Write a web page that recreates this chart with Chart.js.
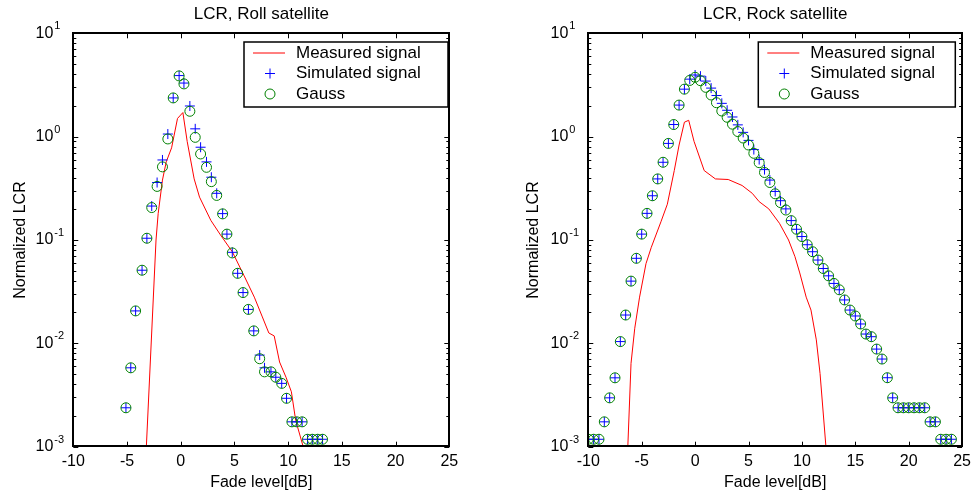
<!DOCTYPE html>
<html>
<head>
<meta charset="utf-8">
<script src="https://cdn.jsdelivr.net/npm/chart.js@4.4.0/dist/chart.umd.min.js"></script>
<style>
  html, body { margin: 0; padding: 0; background: #fff; }
  #wrap { position: relative; width: 976px; height: 494px; }
  .panel { position: absolute; top: 0; }
</style>
</head>
<body>
<div id="wrap">
  <canvas id="rollChart" class="panel" style="left:0" width="488" height="494"></canvas>
  <canvas id="rockChart" class="panel" style="left:488px" width="488" height="494"></canvas>
</div>
<script>
const fontFamily = "'Liberation Sans', Arial, Helvetica, sans-serif";
const legendLabels = ["Measured signal", "Simulated signal", "Gauss"];

// Roll satellite
const rollFadeX = [-5.1, -4.65, -4.2, -3.6, -3.15, -2.7, -2.2, -1.7, -1.2, -0.7,
  -0.15, 0.3, 0.85, 1.35, 1.85, 2.4, 2.85, 3.35, 3.9, 4.3,
  4.8, 5.3, 5.8, 6.3, 6.8, 7.35, 7.8, 8.4, 8.85, 9.4,
  9.85, 10.35, 10.8, 11.3, 11.8, 12.25, 12.75, 13.2];
const rollSimulated = [0.00238, 0.0058, 0.0206, 0.051, 0.104, 0.213, 0.36, 0.595, 1.06, 2.37,
  3.9, 3.3, 1.98, 1.19, 0.79, 0.57, 0.405, 0.283, 0.18, 0.114,
  0.076, 0.0476, 0.031, 0.0213, 0.0132, 0.0077, 0.0058, 0.0053, 0.0047, 0.0041,
  0.00294, 0.00174, 0.00174, 0.00174, 0.00118, 0.00118, 0.00118, 0.00118];
const rollGauss = [0.00238, 0.0058, 0.0206, 0.051, 0.104, 0.206, 0.33, 0.51, 0.95, 2.37,
  3.87, 3.24, 1.76, 0.985, 0.68, 0.505, 0.367, 0.27, 0.179, 0.114,
  0.075, 0.0476, 0.031, 0.0213, 0.0132, 0.0071, 0.0053, 0.0053, 0.0047, 0.0041,
  0.00294, 0.00174, 0.00174, 0.00174, 0.00118, 0.00118, 0.00118, 0.00118];
const rollMeasuredX = [-3.2, -2.3, -2.1, -1.7, -1.35, -0.85, -0.3, 0.2, 0.6, 1.25, 1.75, 2.8,
  3.7, 4.8, 5.9, 6.85, 7.6, 8.2, 8.7, 9.2, 9.8, 10.3, 10.7, 11.4];
const rollMeasured = [0.001, 0.1, 0.18, 0.38, 0.57, 0.78, 1.5, 1.71, 0.9, 0.39, 0.26, 0.155,
  0.112, 0.077, 0.045, 0.028, 0.018, 0.0126, 0.0118, 0.0066, 0.0047, 0.0034, 0.0018, 0.001];

// Rock satellite
const rockFadeX = [-10, -9.5, -9, -8.5, -8, -7.5, -7, -6.5, -6, -5.5,
  -5, -4.5, -4, -3.5, -3, -2.5, -2, -1.5, -1, -0.5,
  0, 0.5, 1, 1.5, 2, 2.5, 3, 3.5, 4, 4.5,
  5, 5.5, 6, 6.5, 7, 7.5, 8, 8.5, 9, 9.5,
  10, 10.5, 11, 11.5, 12, 12.5, 13, 13.5, 14, 14.5,
  15, 15.5, 16, 16.5, 17, 17.5, 18, 18.5, 19, 19.5,
  20, 20.5, 21, 21.5, 22, 22.5, 23, 23.5, 24];
const rockSimulated = [0.00118, 0.00118, 0.00118, 0.00174, 0.00297, 0.00464, 0.0104, 0.0188, 0.040, 0.0665,
  0.114, 0.181, 0.268, 0.39, 0.565, 0.86, 1.31, 2.02, 2.88, 3.6,
  3.95, 3.85, 3.45, 2.95, 2.5, 2.1, 1.8, 1.55, 1.3, 1.1,
  0.92, 0.75, 0.6, 0.48, 0.38, 0.295, 0.24, 0.2, 0.154, 0.127,
  0.108, 0.09, 0.077, 0.064, 0.053, 0.045, 0.038, 0.033, 0.0263, 0.021,
  0.0184, 0.0154, 0.0123, 0.0116, 0.0088, 0.00705, 0.00465, 0.00297, 0.00238, 0.00238,
  0.00238, 0.00238, 0.00238, 0.00238, 0.00174, 0.00174, 0.00118, 0.00118, 0.00118];
const rockGauss = [0.00118, 0.00118, 0.00118, 0.00174, 0.00297, 0.00464, 0.0104, 0.0188, 0.040, 0.0665,
  0.114, 0.181, 0.268, 0.39, 0.565, 0.86, 1.31, 2.02, 2.88, 3.5,
  3.75, 3.48, 3.0, 2.53, 2.13, 1.77, 1.54, 1.32, 1.12, 0.97,
  0.83, 0.69, 0.56, 0.45, 0.36, 0.28, 0.23, 0.195, 0.154, 0.127,
  0.108, 0.09, 0.077, 0.064, 0.053, 0.045, 0.038, 0.033, 0.0263, 0.021,
  0.0184, 0.0154, 0.0123, 0.0116, 0.0088, 0.00705, 0.00465, 0.00297, 0.00238, 0.00238,
  0.00238, 0.00238, 0.00238, 0.00238, 0.00174, 0.00174, 0.00118, 0.00118, 0.00118];
const rockMeasuredX = [-6.3, -6.0, -5.65, -5.2, -4.6, -4.1, -3.2, -2.6, -1.95, -1.5,
  -1.0, -0.6, -0.1, 0.85, 1.9, 3.1, 4.4, 5.35, 6.0, 6.9,
  7.9, 8.75, 9.35, 9.8, 10.4, 10.85, 11.35, 11.7, 12.25];
const rockMeasured = [0.001, 0.0064, 0.014, 0.028, 0.059, 0.085, 0.15, 0.222, 0.47, 0.83,
  1.38, 1.44, 0.9, 0.47, 0.39, 0.385, 0.337, 0.283, 0.235, 0.2,
  0.145, 0.1, 0.069, 0.048, 0.028, 0.021, 0.0108, 0.0051, 0.001];

function points(xs, ys) {
  return xs.map((x, i) => ({ x: x, y: ys[i] }));
}

// matlab style box: inward ticks, 10^n labels and a framed legend
const matlabAxes = {
  id: "matlabAxes",
  afterDraw(chart, args, opts) {
    const ctx = chart.ctx;
    const area = chart.chartArea;
    const xs = chart.scales.x;
    const ys = chart.scales.y;
    ctx.save();
    ctx.strokeStyle = "#000";
    ctx.lineWidth = 1;
    ctx.beginPath();
    xs.ticks.forEach((t) => {
      const px = Math.round(xs.getPixelForValue(t.value)) + 0.5;
      ctx.moveTo(px, area.bottom);
      ctx.lineTo(px, area.bottom - 5);
      ctx.moveTo(px, area.top);
      ctx.lineTo(px, area.top + 5);
    });
    const eMin = Math.round(Math.log10(ys.min));
    const eMax = Math.round(Math.log10(ys.max));
    for (let e = eMin; e < eMax; e++) {
      for (let k = 1; k <= 9; k++) {
        const py = Math.round(ys.getPixelForValue(k * Math.pow(10, e))) + 0.5;
        const len = k === 1 ? 5 : 3;
        ctx.moveTo(area.left, py);
        ctx.lineTo(area.left + len, py);
        ctx.moveTo(area.right, py);
        ctx.lineTo(area.right - len, py);
      }
    }
    ctx.stroke();
    ctx.lineWidth = 2;
    ctx.strokeRect(Math.round(area.left), Math.round(area.top),
      Math.round(area.width), Math.round(area.height));

    ctx.fillStyle = "#000";
    ctx.textBaseline = "middle";
    for (let e = eMin; e <= eMax; e++) {
      const py = ys.getPixelForValue(Math.pow(10, e));
      ctx.font = "16px " + fontFamily;
      ctx.textAlign = "right";
      ctx.fillText("10", area.left - 20, py);
      ctx.font = "11px " + fontFamily;
      ctx.textAlign = "left";
      ctx.fillText(String(e), area.left - 19, py - 7);
    }

    const lb = opts.legendBox;
    ctx.fillStyle = "#fff";
    ctx.fillRect(lb.x, lb.y, lb.w, lb.h);
    ctx.lineWidth = 1.5;
    ctx.strokeRect(lb.x, lb.y, lb.w, lb.h);
    const rows = [11, 31.5, 52];
    chart.data.datasets.forEach((ds, i) => {
      const y = lb.y + rows[i];
      ctx.strokeStyle = ds.borderColor;
      ctx.lineWidth = 1;
      ctx.beginPath();
      if (i === 0) {
        ctx.moveTo(lb.x + 9, y);
        ctx.lineTo(lb.x + 41, y);
      } else if (ds.pointStyle === "cross") {
        ctx.moveTo(lb.x + 26 - 5, y);
        ctx.lineTo(lb.x + 26 + 5, y);
        ctx.moveTo(lb.x + 26, y - 5);
        ctx.lineTo(lb.x + 26, y + 5);
      } else {
        ctx.arc(lb.x + 26, y, 5, 0, Math.PI * 2);
      }
      ctx.stroke();
      ctx.fillStyle = "#000";
      ctx.font = "17px " + fontFamily;
      ctx.textAlign = "left";
      ctx.fillText(ds.label, lb.x + 52, y);
    });
    ctx.restore();
  },
};

function createChart(canvas, title, fadeX, simulated, gauss, measuredX, measured, layout) {
  return new Chart(canvas, {
    type: "line",
    data: {
      datasets: [
        {
          label: legendLabels[0],
          data: points(measuredX, measured),
          borderColor: "#ff0000",
          borderWidth: 1,
          pointRadius: 0,
          tension: 0,
          fill: false,
          order: 3,
        },
        {
          label: legendLabels[1],
          data: points(fadeX, simulated),
          showLine: false,
          pointStyle: "cross",
          pointRadius: 5,
          pointBorderWidth: 1,
          borderColor: "#0000ff",
          pointBorderColor: "#0000ff",
          order: 2,
        },
        {
          label: legendLabels[2],
          data: points(fadeX, gauss),
          showLine: false,
          pointStyle: "circle",
          pointRadius: 5,
          pointBorderWidth: 1,
          borderColor: "#008000",
          pointBorderColor: "#008000",
          pointBackgroundColor: "rgba(0,0,0,0)",
          order: 1,
        },
      ],
    },
    options: {
      responsive: false,
      animation: false,
      events: [],
      layout: { padding: layout.padding },
      scales: {
        x: {
          type: "linear",
          min: -10,
          max: 25,
          ticks: {
            stepSize: 5,
            color: "#000",
            padding: 5,
            maxRotation: 0,
            font: { family: fontFamily, size: 16 },
          },
          grid: { display: false, drawTicks: false },
          border: { display: false },
          title: {
            display: true,
            text: "Fade level[dB]",
            color: "#000",
            padding: { top: 0, bottom: 2 },
            font: { family: fontFamily, size: 16 },
          },
          afterFit: (s) => { s.height = layout.xHeight; },
        },
        y: {
          type: "logarithmic",
          min: 0.001,
          max: 10,
          ticks: { display: false },
          grid: { display: false, drawTicks: false },
          border: { display: false },
          title: {
            display: true,
            text: "Normalized LCR",
            color: "#000",
            padding: { top: 10.5, bottom: 0 },
            font: { family: fontFamily, size: 16 },
          },
          afterFit: (s) => { s.width = layout.yWidth; },
        },
      },
      plugins: {
        legend: { display: false },
        tooltip: { enabled: false },
        title: {
          display: true,
          text: title,
          fullSize: false,
          color: "#000",
          padding: { top: 4.5, bottom: 8.4 },
          font: { family: fontFamily, size: 17, weight: "normal" },
        },
        matlabAxes: { legendBox: layout.legendBox },
      },
    },
    plugins: [matlabAxes],
  });
}

createChart(document.getElementById("rollChart"), "LCR, Roll satellite",
  rollFadeX, rollSimulated, rollGauss, rollMeasuredX, rollMeasured, {
    padding: { left: 0, right: 38.7, top: 0, bottom: 0 },
    yWidth: 73.3,
    xHeight: 47.3,
    legendBox: { x: 244, y: 42, w: 204, h: 65 },
  });

createChart(document.getElementById("rockChart"), "LCR, Rock satellite",
  rockFadeX, rockSimulated, rockGauss, rockMeasuredX, rockMeasured, {
    padding: { left: 25, right: 11, top: 0, bottom: 0 },
    yWidth: 75.3,
    xHeight: 47.3,
    legendBox: { x: 270.3, y: 42, w: 197, h: 65 },
  });
</script>
</body>
</html>
